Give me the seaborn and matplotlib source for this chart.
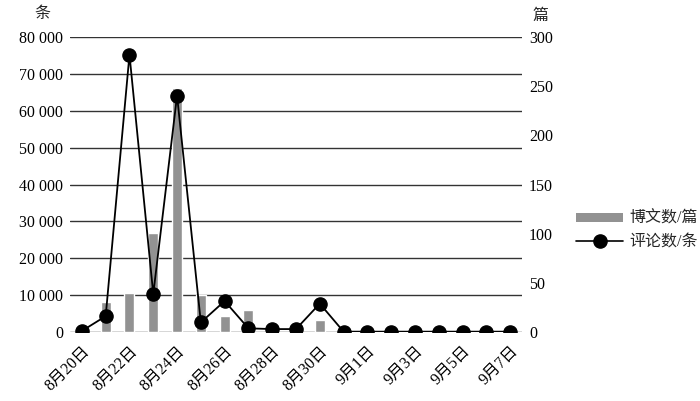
import matplotlib
matplotlib.use("Agg")
import matplotlib.pyplot as plt
import matplotlib.ticker as mticker
from matplotlib.patches import Patch
from matplotlib.lines import Line2D
import seaborn as sns

dates = ["8月20日", "8月21日", "8月22日", "8月23日", "8月24日", "8月25日", "8月26日",
         "8月27日", "8月28日", "8月29日", "8月30日", "8月31日", "9月1日", "9月2日",
         "9月3日", "9月4日", "9月5日", "9月6日", "9月7日"]
posts = [0, 31, 40, 101, 248, 38, 16, 22, 1, 1, 12, 6, 0, 0, 0, 0, 0, 0, 0]          # 博文数/篇
comments = [300, 4300, 75200, 10300, 64100, 2600, 8400, 1000, 800, 800, 7700,
            100, 100, 100, 100, 100, 100, 100, 100]                                  # 评论数/条
left_ticks = list(range(0, 80001, 10000))
right_ticks = list(range(0, 301, 50))

sns.set_theme(style="white")
plt.rcParams["font.family"] = ["Liberation Serif", "Noto Sans CJK SC", "DejaVu Sans"]
fs = 11.5

fig = plt.figure(figsize=(7, 4.01), dpi=100)
ax = fig.add_axes([0.1, 0.172, 0.6457, 0.7357])
ax2 = ax.twinx()
ax3 = ax.twinx()

# bars on the right axis
sns.barplot(x=dates, y=posts, ax=ax2, color="#929292", width=0.42, saturation=1)
ax2.set_ylim(0, 300)
ax2.set_yticks(right_ticks)
ax2.set_ylabel("")

# grid and left axis
ax.set_ylim(0, 80000)
ax.set_yticks(left_ticks)
ax.yaxis.set_major_formatter(mticker.FuncFormatter(lambda v, p: f"{int(v):,}".replace(",", " ")))
ax.grid(axis="y", color="#333333", linewidth=1)
ax.set_axisbelow(True)

# comment line on top
sns.pointplot(x=dates, y=comments, ax=ax3, color="black", markers="o",
              markersize=9.5, linewidth=1.3)
ax3.set_ylim(0, 80000)
ax3.set_yticks([])
ax3.set_ylabel("")

for a in (ax, ax2, ax3):
    for s in a.spines.values():
        s.set_visible(False)
    a.set_xlim(-0.5, len(dates) - 0.5)
ax2.set_xticks([])
ax3.set_xticks([])

ax.set_xticks(range(0, len(dates), 2))
ax.set_xticklabels(dates[::2], rotation=45, ha="right", rotation_mode="anchor")
ax.tick_params(axis="x", length=0, pad=8, labelsize=fs, colors="black")
ax.tick_params(axis="y", length=0, pad=5, labelsize=fs, colors="black")
ax2.tick_params(axis="y", length=0, pad=5, labelsize=fs, colors="black")

fig.text(0.06, 0.965, "条", ha="center", va="center", fontsize=fs)
fig.text(0.772, 0.96, "篇", ha="center", va="center", fontsize=fs)

handles = [Patch(facecolor="#929292", edgecolor="none"),
           Line2D([], [], color="black", marker="o", markersize=9.5, linewidth=1.2)]
fig.legend(handles, ["博文数/篇", "评论数/条"], loc="upper left",
           bbox_to_anchor=(0.803, 0.51), frameon=False, handlelength=2.9,
           handleheight=0.5, handletextpad=0.4, labelspacing=0.45, fontsize=fs)

fig.savefig("out.png", dpi=100)
